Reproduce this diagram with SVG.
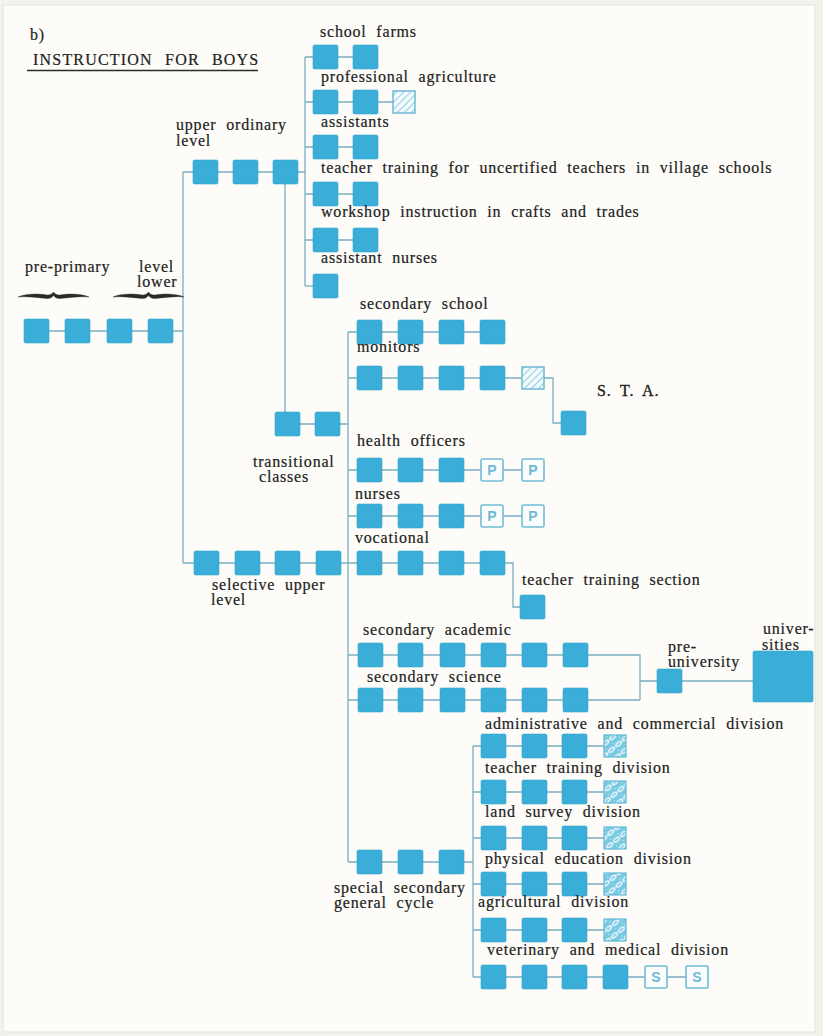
<svg xmlns="http://www.w3.org/2000/svg" width="823" height="1036" viewBox="0 0 823 1036">
<defs>
<style>
.t{font-family:"Liberation Serif","Times New Roman",serif;font-size:16px;fill:#222;stroke:#222;stroke-width:0.2;letter-spacing:0.8px;word-spacing:5px}
.ttl{font-family:"Liberation Serif","Times New Roman",serif;font-size:16px;fill:#222;stroke:#222;stroke-width:0.2;letter-spacing:1.2px;word-spacing:7px}
.b{fill:#3aaed8;stroke:#34a6cf;stroke-width:0.6}
.h{fill:url(#hatch);stroke:#6cb9d3;stroke-width:1.5}
.w{fill:url(#swirl);stroke:#5fb8d6;stroke-width:1.2}
.o{fill:#fbfdfd;stroke:#70bcd5;stroke-width:1.6}
.ol{font-family:"Liberation Sans",Arial,sans-serif;font-size:14px;font-weight:bold;fill:#6cbad4;text-anchor:middle}
.c{fill:none;stroke:#7aaec4;stroke-width:1.3}
.br{fill:#2a2a2a;stroke:#2a2a2a;stroke-width:0.4;stroke-linejoin:round}
</style>
<pattern id="hatch" width="5" height="5" patternUnits="userSpaceOnUse" patternTransform="rotate(45)"><rect width="5" height="5" fill="#f3fafc"/><line x1="0" y1="0" x2="0" y2="5" stroke="#8fcfe3" stroke-width="2"/></pattern>
<pattern id="swirl" width="9" height="9" patternUnits="userSpaceOnUse" patternTransform="rotate(-40)"><rect width="9" height="9" fill="#78c9e2"/><ellipse cx="4.5" cy="4.5" rx="3.4" ry="1.6" fill="none" stroke="#ffffff" stroke-width="1.3"/><circle cx="0" cy="0" r="1" fill="#ffffff"/></pattern>
</defs>
<rect x="0" y="0" width="823" height="1036" fill="#f3f2ed"/>
<rect x="3" y="5" width="812" height="1027" fill="#fdfcf8" stroke="#e3e2db" stroke-width="1"/>

<g id="connectors">
<path class="c" d="M36,331 H183"/>
<path class="c" d="M183,172 V563"/>
<path class="c" d="M183,172 H305"/>
<path class="c" d="M305,57 V286"/>
<path class="c" d="M305,57 H365"/>
<path class="c" d="M305,102 H404"/>
<path class="c" d="M305,147 H365"/>
<path class="c" d="M305,194 H365"/>
<path class="c" d="M305,240 H365"/>
<path class="c" d="M305,286 H325"/>
<path class="c" d="M285,183 V412"/>
<path class="c" d="M287,424 H348"/>
<path class="c" d="M348,332 V862"/>
<path class="c" d="M348,332 H492"/>
<path class="c" d="M348,378 H553 V423 H561"/>
<path class="c" d="M348,470 H533"/>
<path class="c" d="M348,516 H533"/>
<path class="c" d="M183,563 H513 V607 H520"/>
<path class="c" d="M348,655 H640 V700"/>
<path class="c" d="M348,700 H640"/>
<path class="c" d="M640,681 H753"/>
<path class="c" d="M348,862 H473"/>
<path class="c" d="M473,746 V977"/>
<path class="c" d="M473,746 H615"/>
<path class="c" d="M473,792 H615"/>
<path class="c" d="M473,838 H615"/>
<path class="c" d="M473,884 H615"/>
<path class="c" d="M473,930 H615"/>
<path class="c" d="M473,977 H696"/>
</g>

<g id="title">
<text class="t" x="30" y="40">b)</text>
<text class="ttl" x="33" y="65">INSTRUCTION FOR BOYS</text>
<line x1="27" y1="70.5" x2="258" y2="70.5" stroke="#2b2b2b" stroke-width="1.5"/>
</g>

<g id="pre-primary">
<text class="t" x="25" y="272">pre-primary</text>
<path class="br" d="M18,297 C26,293.5 38,293.5 47,295 C50,295.3 52,294 53.5,292 C55,294 57,295.3 60,295 C69,293.5 81,293.5 89,297 C81,296 69,297.5 60,298.6 C56.5,298.8 54.5,297 53.5,295.5 C52.5,297 50.5,298.8 47,298.6 C38,297.5 26,296 18,297 Z"/>
<rect class="b" x="24" y="319" width="25" height="24" rx="1.5"/>
<rect class="b" x="65" y="319" width="25" height="24" rx="1.5"/>
</g>
<g id="lower-level">
<text class="t" x="139" y="272">level</text>
<text class="t" x="137" y="287">lower</text>
<path class="br" d="M113,297 C121,293.5 133,293.5 142,295 C145,295.3 147,294 148.5,292 C150,294 152,295.3 155,295 C164,293.5 176,293.5 184,297 C176,296 164,297.5 155,298.6 C151.5,298.8 149.5,297 148.5,295.5 C147.5,297 145.5,298.8 142,298.6 C133,297.5 121,296 113,297 Z"/>
<rect class="b" x="107" y="319" width="25" height="24" rx="1.5"/>
<rect class="b" x="148" y="319" width="25" height="24" rx="1.5"/>
</g>

<g id="upper-ordinary-level">
<text class="t" x="176" y="130">upper ordinary</text>
<text class="t" x="176" y="146">level</text>
<rect class="b" x="193" y="160" width="25" height="24" rx="1.5"/>
<rect class="b" x="233" y="160" width="25" height="24" rx="1.5"/>
<rect class="b" x="273" y="160" width="25" height="24" rx="1.5"/>
</g>

<g id="school-farms">
<text class="t" x="320" y="37">school farms</text>
<rect class="b" x="313" y="45" width="25" height="24" rx="1.5"/>
<rect class="b" x="353" y="45" width="25" height="24" rx="1.5"/>
</g>
<g id="professional-agriculture">
<text class="t" x="321" y="82">professional agriculture</text>
<rect class="b" x="313" y="90" width="25" height="24" rx="1.5"/>
<rect class="b" x="353" y="90" width="25" height="24" rx="1.5"/>
<rect class="h" x="393" y="91" width="22" height="22"/>
</g>
<g id="assistants">
<text class="t" x="321" y="127">assistants</text>
<rect class="b" x="313" y="135" width="25" height="24" rx="1.5"/>
<rect class="b" x="353" y="135" width="25" height="24" rx="1.5"/>
</g>
<g id="teacher-training-village">
<text class="t" x="321" y="173">teacher training for uncertified teachers in village schools</text>
<rect class="b" x="313" y="182" width="25" height="24" rx="1.5"/>
<rect class="b" x="353" y="182" width="25" height="24" rx="1.5"/>
</g>
<g id="workshop">
<text class="t" x="321" y="217">workshop instruction in crafts and trades</text>
<rect class="b" x="313" y="228" width="25" height="24" rx="1.5"/>
<rect class="b" x="353" y="228" width="25" height="24" rx="1.5"/>
</g>
<g id="assistant-nurses">
<text class="t" x="321" y="263">assistant nurses</text>
<rect class="b" x="313" y="274" width="25" height="24" rx="1.5"/>
</g>

<g id="transitional-classes">
<rect class="b" x="275" y="412" width="25" height="24" rx="1.5"/>
<rect class="b" x="315" y="412" width="25" height="24" rx="1.5"/>
<text class="t" x="253" y="467">transitional</text>
<text class="t" x="259" y="482">classes</text>
</g>

<g id="secondary-school">
<text class="t" x="360" y="309">secondary school</text>
<rect class="b" x="357" y="320" width="25" height="24" rx="1.5"/>
<rect class="b" x="398" y="320" width="25" height="24" rx="1.5"/>
<rect class="b" x="439" y="320" width="25" height="24" rx="1.5"/>
<rect class="b" x="480" y="320" width="25" height="24" rx="1.5"/>
</g>
<g id="monitors">
<rect class="b" x="357" y="366" width="25" height="24" rx="1.5"/>
<rect class="b" x="398" y="366" width="25" height="24" rx="1.5"/>
<rect class="b" x="439" y="366" width="25" height="24" rx="1.5"/>
<rect class="b" x="480" y="366" width="25" height="24" rx="1.5"/>
<rect class="h" x="522" y="367" width="22" height="22"/>
<text class="t" x="357" y="352">monitors</text>
</g>
<g id="sta">
<text class="t" x="597" y="396" style="font-size:16px;word-spacing:4px;stroke-width:0.35">S. T. A.</text>
<rect class="b" x="561" y="411" width="25" height="24" rx="1.5"/>
</g>
<g id="health-officers">
<text class="t" x="357" y="446">health officers</text>
<rect class="b" x="357" y="458" width="25" height="24" rx="1.5"/>
<rect class="b" x="398" y="458" width="25" height="24" rx="1.5"/>
<rect class="b" x="439" y="458" width="25" height="24" rx="1.5"/>
<rect class="o" x="481" y="459" width="22" height="22" rx="1.5"/>
<text class="ol" x="492" y="475">P</text>
<rect class="o" x="522" y="459" width="22" height="22" rx="1.5"/>
<text class="ol" x="533" y="475">P</text>
</g>
<g id="nurses">
<text class="t" x="355" y="499">nurses</text>
<rect class="b" x="357" y="504" width="25" height="24" rx="1.5"/>
<rect class="b" x="398" y="504" width="25" height="24" rx="1.5"/>
<rect class="b" x="439" y="504" width="25" height="24" rx="1.5"/>
<rect class="o" x="481" y="505" width="22" height="22" rx="1.5"/>
<text class="ol" x="492" y="521">P</text>
<rect class="o" x="522" y="505" width="22" height="22" rx="1.5"/>
<text class="ol" x="533" y="521">P</text>
</g>

<g id="selective-upper-level">
<rect class="b" x="194" y="551" width="25" height="24" rx="1.5"/>
<rect class="b" x="235" y="551" width="25" height="24" rx="1.5"/>
<rect class="b" x="275" y="551" width="25" height="24" rx="1.5"/>
<rect class="b" x="316" y="551" width="25" height="24" rx="1.5"/>
<text class="t" x="212" y="590">selective upper</text>
<text class="t" x="211" y="605">level</text>
</g>
<g id="vocational">
<text class="t" x="355" y="543">vocational</text>
<rect class="b" x="357" y="551" width="25" height="24" rx="1.5"/>
<rect class="b" x="398" y="551" width="25" height="24" rx="1.5"/>
<rect class="b" x="439" y="551" width="25" height="24" rx="1.5"/>
<rect class="b" x="480" y="551" width="25" height="24" rx="1.5"/>
</g>
<g id="teacher-training-section">
<text class="t" x="522" y="585">teacher training section</text>
<rect class="b" x="520" y="595" width="25" height="24" rx="1.5"/>
</g>

<g id="secondary-academic">
<text class="t" x="363" y="635">secondary academic</text>
<rect class="b" x="358" y="643" width="25" height="24" rx="1.5"/>
<rect class="b" x="398" y="643" width="25" height="24" rx="1.5"/>
<rect class="b" x="440" y="643" width="25" height="24" rx="1.5"/>
<rect class="b" x="481" y="643" width="25" height="24" rx="1.5"/>
<rect class="b" x="522" y="643" width="25" height="24" rx="1.5"/>
<rect class="b" x="563" y="643" width="25" height="24" rx="1.5"/>
</g>
<g id="secondary-science">
<text class="t" x="367" y="682">secondary science</text>
<rect class="b" x="358" y="688" width="25" height="24" rx="1.5"/>
<rect class="b" x="398" y="688" width="25" height="24" rx="1.5"/>
<rect class="b" x="440" y="688" width="25" height="24" rx="1.5"/>
<rect class="b" x="481" y="688" width="25" height="24" rx="1.5"/>
<rect class="b" x="522" y="688" width="25" height="24" rx="1.5"/>
<rect class="b" x="563" y="688" width="25" height="24" rx="1.5"/>
</g>
<g id="pre-university">
<text class="t" x="668" y="652">pre-</text>
<text class="t" x="668" y="667">university</text>
<rect class="b" x="657" y="669" width="25" height="24" rx="1.5"/>
</g>
<g id="universities">
<text class="t" x="763" y="634">univer-</text>
<text class="t" x="762" y="650">sities</text>
<rect class="b" x="753" y="651" width="60" height="51" rx="1.5"/>
</g>

<g id="special-general-secondary-cycle">
<rect class="b" x="357" y="850" width="25" height="24" rx="1.5"/>
<rect class="b" x="398" y="850" width="25" height="24" rx="1.5"/>
<rect class="b" x="439" y="850" width="25" height="24" rx="1.5"/>
<text class="t" x="334" y="893">special secondary</text>
<text class="t" x="334" y="908">general cycle</text>
</g>

<g id="administrative-commercial-division">
<text class="t" x="485" y="729">administrative and commercial division</text>
<rect class="b" x="481" y="734" width="25" height="24" rx="1.5"/>
<rect class="b" x="522" y="734" width="25" height="24" rx="1.5"/>
<rect class="b" x="562" y="734" width="25" height="24" rx="1.5"/>
<rect class="w" x="604" y="735" width="22" height="22"/>
</g>
<g id="teacher-training-division">
<text class="t" x="485" y="773">teacher training division</text>
<rect class="b" x="481" y="780" width="25" height="24" rx="1.5"/>
<rect class="b" x="522" y="780" width="25" height="24" rx="1.5"/>
<rect class="b" x="562" y="780" width="25" height="24" rx="1.5"/>
<rect class="w" x="604" y="781" width="22" height="22"/>
</g>
<g id="land-survey-division">
<text class="t" x="485" y="817">land survey division</text>
<rect class="b" x="481" y="826" width="25" height="24" rx="1.5"/>
<rect class="b" x="522" y="826" width="25" height="24" rx="1.5"/>
<rect class="b" x="562" y="826" width="25" height="24" rx="1.5"/>
<rect class="w" x="604" y="827" width="22" height="22"/>
</g>
<g id="physical-education-division">
<text class="t" x="485" y="864">physical education division</text>
<rect class="b" x="481" y="872" width="25" height="24" rx="1.5"/>
<rect class="b" x="522" y="872" width="25" height="24" rx="1.5"/>
<rect class="b" x="562" y="872" width="25" height="24" rx="1.5"/>
<rect class="w" x="604" y="873" width="22" height="22"/>
</g>
<g id="agricultural-division">
<text class="t" x="478" y="907">agricultural division</text>
<rect class="b" x="481" y="918" width="25" height="24" rx="1.5"/>
<rect class="b" x="522" y="918" width="25" height="24" rx="1.5"/>
<rect class="b" x="562" y="918" width="25" height="24" rx="1.5"/>
<rect class="w" x="604" y="919" width="22" height="22"/>
</g>
<g id="veterinary-medical-division">
<text class="t" x="487" y="955">veterinary and medical division</text>
<rect class="b" x="481" y="965" width="25" height="24" rx="1.5"/>
<rect class="b" x="522" y="965" width="25" height="24" rx="1.5"/>
<rect class="b" x="562" y="965" width="25" height="24" rx="1.5"/>
<rect class="b" x="603" y="965" width="25" height="24" rx="1.5"/>
<rect class="o" x="645" y="966" width="22" height="22" rx="1.5"/>
<text class="ol" x="656" y="982">S</text>
<rect class="o" x="686" y="966" width="22" height="22" rx="1.5"/>
<text class="ol" x="697" y="982">S</text>
</g>
</svg>
